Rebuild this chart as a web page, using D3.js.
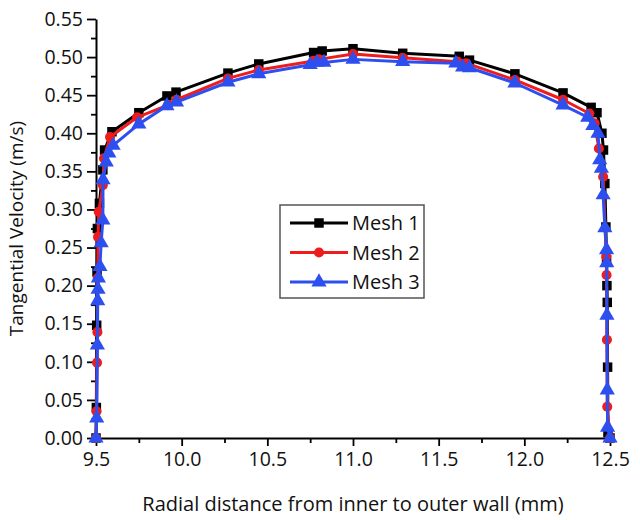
<!DOCTYPE html>
<html>
<head>
<meta charset="utf-8">
<script src="https://cdn.jsdelivr.net/npm/d3@7"></script>
<style>
  html, body { margin: 0; padding: 0; background: #fff; }
  svg { display: block; font-family: "Open Sans", sans-serif; }
</style>
</head>
<body>
<svg id="chart" width="640" height="520"></svg>
<script>
// ---- data ----
const seriesNames = ["Mesh 1", "Mesh 2", "Mesh 3"];

const mesh1X = [9.500, 9.502, 9.504, 9.506, 9.508, 9.520, 9.540, 9.550, 9.593, 9.750, 9.914, 9.967, 10.270, 10.450, 10.770, 10.820, 11.000, 11.290, 11.620, 11.680, 11.945, 12.226, 12.390, 12.424, 12.453, 12.462, 12.470, 12.476, 12.480, 12.482, 12.484, 12.486, 12.488, 12.500];
const mesh1Y = [0.000, 0.040, 0.148, 0.218, 0.275, 0.308, 0.352, 0.378, 0.402, 0.427, 0.449, 0.454, 0.479, 0.491, 0.506, 0.508, 0.511, 0.505, 0.501, 0.496, 0.478, 0.453, 0.434, 0.427, 0.400, 0.378, 0.334, 0.277, 0.234, 0.200, 0.178, 0.093, 0.007, 0.000];

const mesh2X = [9.500, 9.503, 9.506, 9.508, 9.510, 9.512, 9.516, 9.540, 9.547, 9.582, 9.740, 9.920, 9.970, 10.270, 10.450, 10.770, 10.800, 11.000, 11.290, 11.610, 11.660, 11.945, 12.226, 12.380, 12.410, 12.435, 12.460, 12.478, 12.480, 12.482, 12.484, 12.500];
const mesh2Y = [0.000, 0.035, 0.099, 0.139, 0.210, 0.264, 0.297, 0.332, 0.367, 0.395, 0.421, 0.437, 0.444, 0.472, 0.483, 0.495, 0.497, 0.504, 0.499, 0.494, 0.492, 0.470, 0.444, 0.426, 0.413, 0.380, 0.343, 0.238, 0.214, 0.129, 0.041, 0.000];

const mesh3X = [9.500, 9.504, 9.508, 9.510, 9.512, 9.514, 9.523, 9.530, 9.540, 9.541, 9.560, 9.575, 9.600, 9.750, 9.914, 9.970, 10.270, 10.450, 10.750, 10.790, 10.830, 11.000, 11.290, 11.600, 11.640, 11.680, 11.945, 12.226, 12.370, 12.400, 12.430, 12.440, 12.450, 12.460, 12.470, 12.480, 12.481, 12.482, 12.484, 12.486, 12.500];
const mesh3Y = [0.000, 0.026, 0.122, 0.180, 0.195, 0.210, 0.225, 0.256, 0.286, 0.339, 0.362, 0.374, 0.384, 0.412, 0.436, 0.441, 0.467, 0.478, 0.490, 0.493, 0.493, 0.497, 0.494, 0.492, 0.487, 0.486, 0.466, 0.437, 0.421, 0.410, 0.400, 0.365, 0.354, 0.319, 0.276, 0.247, 0.230, 0.161, 0.063, 0.014, 0.000];

const xTicks = [9.5, 10.0, 10.5, 11.0, 11.5, 12.0, 12.5];
const yTicks = [0.00, 0.05, 0.10, 0.15, 0.20, 0.25, 0.30, 0.35, 0.40, 0.45, 0.50, 0.55];
const xTitle = "Radial distance from inner to outer wall (mm)";
const yTitle = "Tangential Velocity (m/s)";

// ---- layout ----
const svg = d3.select("#chart");
const pL = 96, pR = 610, pT = 19, pB = 438;
const x = d3.scaleLinear().domain([9.5, 12.5]).range([pL, pR]);
const y = d3.scaleLinear().domain([0, 0.55]).range([pB, pT]);

const colors = ["#000000", "#ee1c1c", "#2e4ff0"];
const shapes = [d3.symbolSquare, d3.symbolCircle, d3.symbolTriangle];
const sizes = [90, 80, 100];

const fontSize = 19.5;

// minor ticks
const xMinor = d3.range(9.75, 12.5, 0.5);
const yMinor = d3.range(0.025, 0.55, 0.05);

svg.append("g")
  .attr("transform", `translate(0,${pB})`)
  .call(d3.axisBottom(x).tickValues(xMinor).tickSize(5).tickFormat(""))
  .call(g => g.select(".domain").remove())
  .call(g => g.selectAll("line").attr("stroke-width", 1.8));
svg.append("g")
  .attr("transform", `translate(${pL},0)`)
  .call(d3.axisLeft(y).tickValues(yMinor).tickSize(5).tickFormat(""))
  .call(g => g.select(".domain").remove())
  .call(g => g.selectAll("line").attr("stroke-width", 1.8));

const xAxis = svg.append("g")
  .attr("transform", `translate(0,${pB})`)
  .call(d3.axisBottom(x).tickValues(xTicks).tickSize(8).tickSizeOuter(0).tickPadding(6).tickFormat(d3.format(".1f")));
const yAxis = svg.append("g")
  .attr("transform", `translate(${pL},0)`)
  .call(d3.axisLeft(y).tickValues(yTicks).tickSize(9).tickSizeOuter(0).tickPadding(4).tickFormat(d3.format(".2f")));

[xAxis, yAxis].forEach(g => {
  g.select(".domain").attr("stroke-width", 2);
  g.selectAll(".tick line").attr("stroke-width", 1.8);
  g.selectAll(".tick text").attr("font-size", fontSize).attr("fill", "#111")
   .attr("font-family", "'Open Sans', sans-serif");
});

// titles
svg.append("text")
  .attr("x", (pL + pR) / 2).attr("y", 511)
  .attr("text-anchor", "middle").attr("font-size", 20).attr("fill", "#111")
  .text(xTitle);
svg.append("text")
  .attr("transform", `translate(23,${(pT + pB) / 2}) rotate(-90)`)
  .attr("text-anchor", "middle").attr("font-size", 19).attr("fill", "#111")
  .text(yTitle);

// series
const series = [
  { name: seriesNames[0], xs: mesh1X, ys: mesh1Y },
  { name: seriesNames[1], xs: mesh2X, ys: mesh2Y },
  { name: seriesNames[2], xs: mesh3X, ys: mesh3Y }
];
const line = d3.line().x(d => x(d[0])).y(d => y(d[1]));

series.forEach((s, i) => {
  const pts = s.xs.map((v, k) => [v, s.ys[k]]);
  const g = svg.append("g");
  g.append("path").datum(pts)
    .attr("d", line).attr("fill", "none")
    .attr("stroke", colors[i]).attr("stroke-width", 3).attr("stroke-linejoin", "round");
  g.selectAll("path.m").data(pts).join("path")
    .attr("class", "m")
    .attr("transform", d => `translate(${x(d[0])},${y(d[1])})`)
    .attr("d", d3.symbol().type(shapes[i]).size(sizes[i]))
    .attr("fill", colors[i]);
});

// legend
const lg = svg.append("g");
lg.append("rect").attr("x", 280).attr("y", 205).attr("width", 144).attr("height", 93)
  .attr("fill", "#fff").attr("stroke", "#555").attr("stroke-width", 1.5);
series.forEach((s, i) => {
  const cy = 223 + i * 29.5;
  lg.append("line").attr("x1", 290).attr("x2", 348).attr("y1", cy).attr("y2", cy)
    .attr("stroke", colors[i]).attr("stroke-width", 3);
  lg.append("path").attr("transform", `translate(319,${cy})`)
    .attr("d", d3.symbol().type(shapes[i]).size(sizes[i])).attr("fill", colors[i]);
  lg.append("text").attr("x", 352).attr("y", cy + 7)
    .attr("font-size", 20).attr("fill", "#111").text(s.name);
});
</script>
</body>
</html>
